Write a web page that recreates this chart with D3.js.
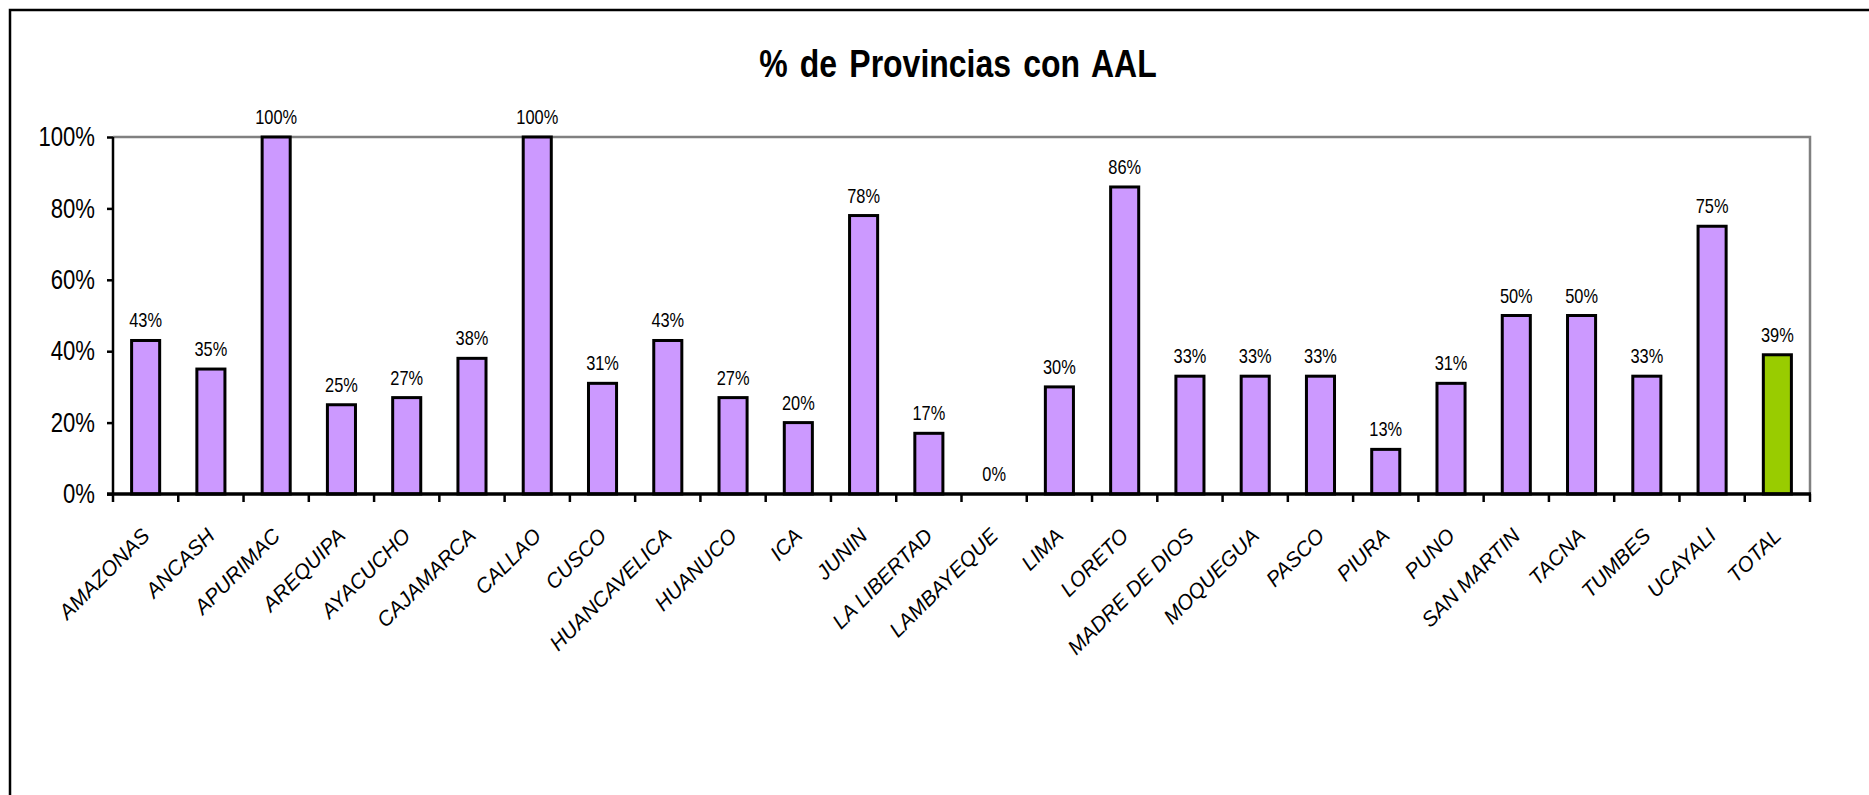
<!DOCTYPE html>
<html>
<head>
<meta charset="utf-8">
<script src="https://cdn.jsdelivr.net/npm/d3@7/dist/d3.min.js"></script>
<style>
  body { margin: 0; background: #fff; }
  svg { display: block; }
</style>
</head>
<body>
<script>
// provincias y porcentajes
var provincias = ["AMAZONAS", "ANCASH", "APURIMAC", "AREQUIPA", "AYACUCHO", "CAJAMARCA",
  "CALLAO", "CUSCO", "HUANCAVELICA", "HUANUCO", "ICA", "JUNIN", "LA LIBERTAD",
  "LAMBAYEQUE", "LIMA", "LORETO", "MADRE DE DIOS", "MOQUEGUA", "PASCO", "PIURA",
  "PUNO", "SAN MARTIN", "TACNA", "TUMBES", "UCAYALI", "TOTAL"];
var porcentajes = [0.43, 0.35, 1.00, 0.25, 0.27, 0.38, 1.00, 0.31, 0.43, 0.27, 0.20,
  0.78, 0.17, 0.00, 0.30, 0.86, 0.33, 0.33, 0.33, 0.125, 0.31, 0.50, 0.50, 0.33,
  0.75, 0.39];
var yTicks = [0, 0.2, 0.4, 0.6, 0.8, 1.0];
var titulo = "% de Provincias con AAL";

var w = 1869;
var h = 795;
var pLeft = 113, pRight = 1810, pTop = 137, pBottom = 494;
var font = "'Liberation Sans', Arial, sans-serif";
var narrow = "scale(0.82,1)"; // imita Arial Narrow

var svg = d3.select("body")
    .append("svg")
    .attr("width", w)
    .attr("height", h);

// marco exterior
svg.append("rect")
    .attr("x", 10)
    .attr("y", 10)
    .attr("width", 1900)
    .attr("height", 900)
    .attr("fill", "none")
    .attr("stroke", "#000")
    .attr("stroke-width", 2.5);

svg.append("text")
    .text(titulo)
    .attr("transform", "translate(958,77) " + narrow)
    .attr("text-anchor", "middle")
    .attr("font-family", font)
    .attr("font-weight", "bold")
    .attr("font-size", "39px")
    .attr("word-spacing", "4px");

var x = d3.scaleBand()
    .domain(provincias)
    .range([pLeft, pRight])
    .paddingInner(0.57)
    .paddingOuter(0.285);

var y = d3.scaleLinear()
    .domain([0, 1])
    .range([pBottom, pTop]);

// borde gris del area de trazado (arriba y derecha)
svg.append("path")
    .attr("d", "M" + pLeft + "," + pTop + "H" + pRight + "V" + pBottom)
    .attr("fill", "none")
    .attr("stroke", "#808080")
    .attr("stroke-width", 2.5);

svg.selectAll("rect.bar")
    .data(porcentajes)
    .enter()
    .append("rect")
    .attr("class", "bar")
    .attr("x", function(d, i) { return x(provincias[i]); })
    .attr("y", function(d) { return y(d); })
    .attr("width", x.bandwidth())
    .attr("height", function(d) { return pBottom - y(d); })
    .attr("fill", function(d, i) {
        return provincias[i] == "TOTAL" ? "#99CC00" : "#CC99FF";
    })
    .attr("stroke", "#000")
    .attr("stroke-width", 3);

svg.selectAll("text.val")
    .data(porcentajes)
    .enter()
    .append("text")
    .attr("class", "val")
    .text(function(d) { return Math.round(d * 100) + "%"; })
    .attr("transform", function(d, i) {
        return "translate(" + (x(provincias[i]) + x.bandwidth() / 2) + "," + (y(d) - 13) + ") " + narrow;
    })
    .attr("text-anchor", "middle")
    .attr("font-family", font)
    .attr("font-size", "20px");

// eje Y
var yAxis = svg.append("g")
    .attr("transform", "translate(" + pLeft + ",0)")
    .call(d3.axisLeft(y).tickValues(yTicks).tickFormat(d3.format(".0%")).tickSize(6).tickPadding(12));
yAxis.select(".domain").remove();
yAxis.selectAll("line").attr("stroke", "#000").attr("stroke-width", 2.5);
yAxis.selectAll("text")
    .attr("transform", narrow)
    .attr("x", -18 / 0.82)
    .attr("font-family", font)
    .attr("font-size", "27px")
    .attr("fill", "#000");

svg.append("line")
    .attr("x1", pLeft).attr("x2", pLeft)
    .attr("y1", pTop).attr("y2", pBottom)
    .attr("stroke", "#000")
    .attr("stroke-width", 2.5);

// eje X: marcas entre categorias
svg.selectAll("line.xtick")
    .data(d3.range(provincias.length + 1))
    .enter()
    .append("line")
    .attr("class", "xtick")
    .attr("x1", function(d) { return pLeft + d * x.step(); })
    .attr("x2", function(d) { return pLeft + d * x.step(); })
    .attr("y1", pBottom)
    .attr("y2", pBottom + 8)
    .attr("stroke", "#000")
    .attr("stroke-width", 2.5);

svg.append("line")
    .attr("x1", pLeft - 6).attr("x2", pRight + 1)
    .attr("y1", pBottom).attr("y2", pBottom)
    .attr("stroke", "#000")
    .attr("stroke-width", 3.5);

svg.selectAll("text.cat")
    .data(provincias)
    .enter()
    .append("text")
    .attr("class", "cat")
    .text(function(d) { return d; })
    .attr("transform", function(d) {
        return "translate(" + (x(d) + x.bandwidth() / 2) + "," + (pBottom + 38) + ") rotate(-45)";
    })
    .attr("text-anchor", "end")
    .attr("dy", "0.35em")
    .attr("font-family", font)
    .attr("font-style", "italic")
    .attr("font-size", "21px");
</script>
</body>
</html>
